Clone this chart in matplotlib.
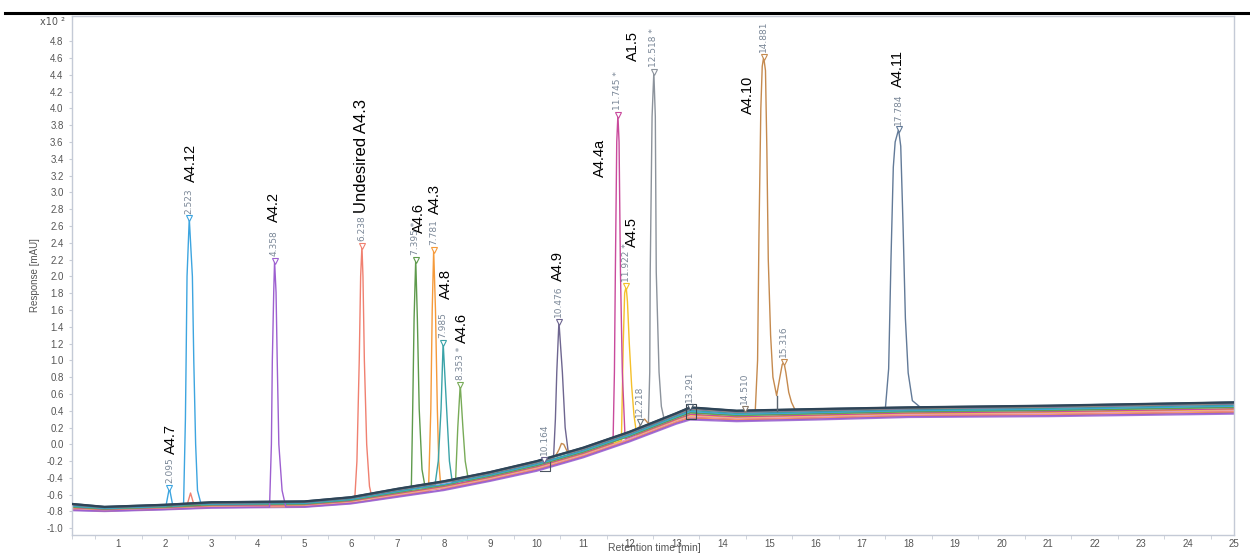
import numpy as np
import matplotlib
matplotlib.use("Agg")
import matplotlib.pyplot as plt
from matplotlib.lines import Line2D
from matplotlib.patches import Rectangle
from matplotlib.ticker import MultipleLocator, FixedLocator

plt.rcParams['axes.unicode_minus'] = False
plt.rcParams['font.family'] = ['Liberation Sans', 'DejaVu Sans']

nan = np.nan

# ---------------- data ----------------
# baseline bundle: top (dark) and bottom (purple) edges, response x10^2 mAU
base_t     = [0, 0.7, 2.0, 3.0, 5.0, 6.0, 7.0, 8.0, 9.0, 10.0, 11.0, 12.0, 13.0, 13.3, 14.3, 16.0, 18.0, 21.0, 25.0]
base_top_v = [-0.71, -0.745, -0.72, -0.69, -0.68, -0.63, -0.53, -0.44, -0.33, -0.20, -0.04, 0.15, 0.37, 0.44, 0.40, 0.42, 0.44, 0.46, 0.50]
base_bot_v = [-0.79, -0.80, -0.78, -0.76, -0.75, -0.71, -0.63, -0.55, -0.44, -0.32, -0.16, 0.03, 0.24, 0.29, 0.27, 0.29, 0.32, 0.33, 0.36]

# peak vertex lists (nan = foot on the trace baseline)
pk_2095_t = [2.02, 2.06, 2.095, 2.13, 2.17]
pk_2095_v = [nan, -0.62, -0.52, -0.62, nan]
pk_2523_t = [2.40, 2.44, 2.455, 2.475, 2.523, 2.59, 2.62, 2.66, 2.70, 2.78]
pk_2523_v = [nan, 0.3, 1.0, 2.0, 2.69, 2.0, 1.0, 0.0, -0.55, nan]
pk_red_t = [2.46, 2.55, 2.64]
pk_red_v = [nan, -0.58, nan]
pk_4358_t = [4.25, 4.29, 4.31, 4.34, 4.358, 4.39, 4.415, 4.45, 4.52, 4.60]
pk_4358_v = [nan, 0.0, 1.0, 1.81, 2.18, 1.81, 1.0, 0.0, -0.55, nan]
pk_6238_t = [6.08, 6.13, 6.18, 6.21, 6.238, 6.26, 6.29, 6.34, 6.40, 6.46]
pk_6238_v = [nan, -0.2, 1.0, 2.0, 2.36, 2.0, 1.0, 0.0, -0.5, nan]
pk_7395_t = [7.30, 7.33, 7.36, 7.395, 7.43, 7.47, 7.53, 7.60]
pk_7395_v = [nan, 0.42, 1.5, 2.20, 1.5, 0.42, -0.3, nan]
pk_7781_t = [7.67, 7.72, 7.75, 7.781, 7.82, 7.86, 7.89, 7.94]
pk_7781_v = [nan, 0.42, 1.6, 2.31, 1.6, 0.42, -0.2, nan]
pk_7985_t = [7.81, 7.88, 7.94, 7.985, 8.06, 8.12, 8.18]
pk_7985_v = [nan, -0.2, 0.42, 1.21, 0.42, -0.2, nan]
pk_8353_t = [8.25, 8.30, 8.353, 8.41, 8.46, 8.53]
pk_8353_v = [nan, 0.2, 0.71, 0.2, -0.2, nan]
pk_10476_t = [10.36, 10.40, 10.43, 10.476, 10.55, 10.61, 10.68]
pk_10476_v = [nan, 0.3, 0.86, 1.46, 0.86, 0.2, nan]
pk_brown1_t = [10.40, 10.48, 10.53, 10.58, 10.65, 10.75]
pk_brown1_v = [nan, -0.06, 0.01, 0.0, -0.08, nan]
pk_11745_t = [11.64, 11.67, 11.69, 11.72, 11.745, 11.77, 11.80, 11.84, 11.90]
pk_11745_v = [nan, 0.86, 2.05, 3.6, 3.92, 3.6, 2.05, 0.86, nan]
pk_11922_t = [11.82, 11.86, 11.89, 11.922, 11.95, 11.99, 12.04, 12.09, 12.15]
pk_11922_v = [nan, 1.2, 1.8, 1.88, 1.7, 1.2, 0.7, 0.35, nan]
pk_brown2_t = [12.18, 12.27, 12.32, 12.38, 12.45]
pk_brown2_v = [nan, 0.28, 0.30, 0.26, nan]
pk_12518_t = [12.40, 12.43, 12.44, 12.48, 12.518, 12.55, 12.57, 12.63, 12.68, 12.74]
pk_12518_v = [nan, 0.86, 2.05, 3.9, 4.43, 3.9, 2.05, 0.86, 0.45, nan]
pk_14881_t = [14.70, 14.75, 14.78, 14.82, 14.85, 14.881, 14.92, 14.95, 14.98, 15.03, 15.08,
              15.16, 15.23, 15.28, 15.316, 15.36, 15.42, 15.48, 15.56]
pk_14881_v = [nan, 1.0, 2.5, 4.0, 4.5, 4.61, 4.45, 3.5, 2.2, 1.3, 0.8,
              0.58, 0.80, 0.95, 0.98, 0.85, 0.62, 0.50, nan]
pk_17784_t = [17.50, 17.57, 17.62, 17.67, 17.71, 17.784, 17.83, 17.88, 17.93, 17.99, 18.08, 18.26]
pk_17784_v = [nan, 0.9, 2.2, 3.3, 3.6, 3.75, 3.55, 2.6, 1.5, 0.85, 0.52, nan]

# traces: colour, position inside the baseline bundle (0 = top, 1 = bottom), peaks
trace_colors = ['#a77bd6', '#f59a3a', '#f08070', '#e8a0c0', '#f5c02a', '#c94a9c',
                '#78ab58', '#5e9a4c', '#3da5e0', '#3aa3a8', '#9d5fd0', '#6e6690',
                '#8c939c', '#c58a4e', '#627a98', '#4a6a80', '#2e4457']
trace_pos    = [1.0, 0.85, 0.75, 0.68, 0.6, 0.55,
                0.45, 0.4, 0.33, 0.25, 0.92, 0.15,
                0.1, 0.07, 0.04, 0.02, 0.0]
trace_peaks = [
    [], [(pk_7781_t, pk_7781_v)], [(pk_red_t, pk_red_v), (pk_6238_t, pk_6238_v)], [],
    [(pk_11922_t, pk_11922_v)], [(pk_11745_t, pk_11745_v)],
    [(pk_8353_t, pk_8353_v)], [(pk_7395_t, pk_7395_v)],
    [(pk_2095_t, pk_2095_v), (pk_2523_t, pk_2523_v)], [(pk_7985_t, pk_7985_v)],
    [(pk_4358_t, pk_4358_v)], [(pk_10476_t, pk_10476_v)],
    [(pk_12518_t, pk_12518_v)],
    [(pk_brown1_t, pk_brown1_v), (pk_brown2_t, pk_brown2_v), (pk_14881_t, pk_14881_v)],
    [(pk_17784_t, pk_17784_v)], [], [],
]

# retention-time labels (apex markers)
rt_text  = ['2.095', '2.523', '4.358', '6.238', '7.395 *', '7.781', '7.985', '8.353 *',
            '10.164', '10.476', '11.745 *', '11.922 *', '12.218', '12.518 *', '13.291',
            '14.510', '14.881', '15.316', '17.784']
rt_t     = [2.095, 2.523, 4.358, 6.238, 7.395, 7.781, 7.985, 8.353,
            10.164, 10.476, 11.745, 11.922, 12.218, 12.518, 13.291,
            14.47, 14.881, 15.316, 17.784]
rt_v     = [-0.52, 2.69, 2.18, 2.36, 2.20, 2.31, 1.21, 0.71,
            -0.19, 1.46, 3.92, 1.88, 0.27, 4.43, 0.45,
            0.42, 4.61, 0.98, 3.75]
rt_color = ['#3da5e0', '#3da5e0', '#9d5fd0', '#f08070', '#5e9a4c', '#f59a3a', '#3aa3a8', '#78ab58',
            '#6e6690', '#6e6690', '#c94a9c', '#f5c02a', '#6e7b88', '#8c939c', '#4a5a6a',
            '#8a7a6a', '#c58a4e', '#c58a4e', '#627a98']

# compound names
name_text = ['A4.7', 'A4.12', 'A4.2', 'Undesired A4.3', 'A4.6', 'A4.3', 'A4.8', 'A4.6',
             'A4.9', 'A4.4a', 'A4.5', 'A1.5', 'A4.10', 'A4.11']
name_t = [2.12, 2.55, 4.35, 6.22, 7.46, 7.81, 8.05, 8.39, 10.45, 11.35, 12.04, 12.06, 14.55, 17.78]
name_v = [-0.12, 3.12, 2.65, 2.76, 2.52, 2.74, 1.73, 1.21, 1.94, 3.18, 2.35, 4.56, 3.93, 4.25]
name_size = [10.5, 10.5, 10.5, 12.0, 10.5, 10.5, 10.5, 10.5, 10.5, 10.5, 10.5, 10.5, 10.5, 10.5]

x_ticks = list(range(1, 26))
y_ticks = [round(-1.0 + 0.2 * i, 1) for i in range(30)]

# ---------------- figure ----------------
fig = plt.figure(figsize=(12.5, 5.54), dpi=100)
ax = fig.add_axes([72 / 1250, 1 - 535 / 554, (1234 - 72) / 1250, (535 - 16) / 554])

bt = np.array(base_t)
btop = np.array(base_top_v)
bbot = np.array(base_bot_v)
for color, pos, peaks in zip(trace_colors, trace_pos, trace_peaks):
    bline = btop + pos * (bbot - btop)
    keep = np.ones(len(bt), bool)
    for pt, pv in peaks:
        keep &= ~((bt >= pt[0]) & (bt <= pt[-1]))
    xs = list(bt[keep])
    ys = list(bline[keep])
    for pt, pv in peaks:
        for t, v in zip(pt, pv):
            xs.append(t)
            ys.append(np.interp(t, bt, bline) if np.isnan(v) else v)
    order = np.argsort(xs)
    dark = color in ('#2e4457', '#4a6a80')
    ax.plot(np.array(xs)[order], np.array(ys)[order], color=color,
            lw=1.6 if dark else 1.0, zorder=2 + (1 if dark else 0))

# integration marks
ax.plot([10.06, 10.29, 10.29], [-0.32, -0.32, -0.21], color='#4a5560', lw=0.8, zorder=4)
ax.add_patch(Rectangle((13.20, 0.30), 0.22, 0.18, fill=False, ec='#3a4550', lw=0.8, zorder=4))
ax.plot([15.16, 15.16], [0.58, 0.40], color='#5a6570', lw=1.0, zorder=4)

# apex markers + retention-time labels
for txt, t, v, c in zip(rt_text, rt_t, rt_v, rt_color):
    ax.plot([t], [v], marker='v', ms=4, mfc='white', mec=c, mew=0.8, zorder=5)
    ax.annotate(txt, (t, v), xytext=(0, 3.5), textcoords='offset points', rotation=90,
                ha='center', va='bottom', fontsize=6.5, color='#7a8797',
                family=['DejaVu Sans'], zorder=6)

# compound names
for txt, t, v, s in zip(name_text, name_t, name_v, name_size):
    ax.text(t, v, txt, rotation=90, ha='center', va='bottom', fontsize=s,
            color='black', zorder=6)

ax.set_xlim(0, 25)
ax.set_ylim(-1.08, 5.1)
ax.xaxis.set_major_locator(FixedLocator(x_ticks))
ax.xaxis.set_minor_locator(MultipleLocator(0.5))
ax.yaxis.set_major_locator(FixedLocator(y_ticks))
ax.set_yticklabels([f'{v:.1f}' for v in y_ticks])
ax.tick_params(axis='x', which='major', length=0, pad=3, labelsize=7, labelcolor='#555555')
ax.tick_params(axis='x', which='minor', length=3, color='#c8ccd6')
ax.tick_params(axis='y', which='major', length=2, pad=4, labelsize=7, labelcolor='#555555',
               color='#c8ccd6')
for s in ax.spines.values():
    s.set_color('#c4cad6')
    s.set_linewidth(1.0)

fig.text(654 / 1250, 1 - 548 / 554, 'Retention time [min]', ha='center', va='center',
         fontsize=7.5, color='#555555')
fig.text(35 / 1250, 1 - 275 / 554, 'Response [mAU]', ha='center', va='center',
         rotation=90, fontsize=7, color='#555555')
fig.text(40 / 1250, 1 - 22 / 554, 'x10 ²', ha='left', va='center', fontsize=7,
         color='#555555', family=['DejaVu Sans'])
fig.add_artist(Line2D([5 / 1250, 1.0], [1 - 13 / 554, 1 - 13 / 554], color='black', lw=2.2))

fig.savefig('out.png', dpi=100)
